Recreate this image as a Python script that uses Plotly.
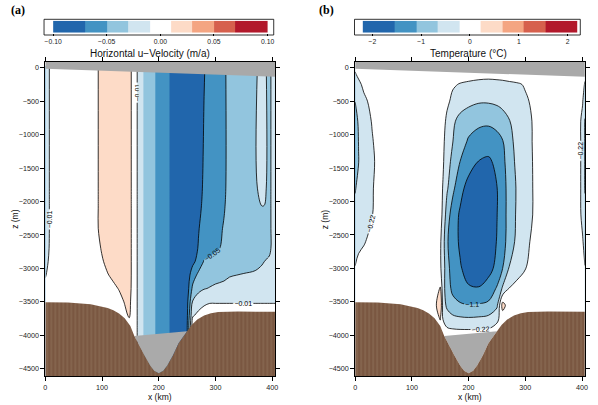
import plotly.graph_objects as go
import numpy as np

# ---------------- data ----------------
# panel (a): horizontal u-velocity (m/a), grid
xa = [0, 10, 50, 90, 100, 110, 120, 130, 140, 148, 156, 160, 164, 170, 176, 190, 200, 215,
      225, 240, 250, 260, 270, 280, 290, 300, 315, 325, 350, 370, 382, 386, 392, 395, 400, 405]
za = [30, -1800, -2100, -2400, -2700, -2900, -3100, -3300, -3500, -3700, -3850, -4000, -4600]
jet = [-0.006, -0.014, -0.024, -0.036, -0.046, -0.056, -0.066, -0.076]
ua = [
    [-0.02, -0.006, 0, 0.005, 0.02, 0.02, 0.02, 0.02, 0.02, 0.018, 0] + jet +
    [-0.08, -0.082, -0.082, -0.08, -0.071, -0.064, -0.058, -0.052, -0.046, -0.04, -0.034, -0.022, -0.024, -0.034, -0.035, -0.026, -0.022],
    [-0.02, -0.006, 0, 0.005, 0.02, 0.02, 0.02, 0.02, 0.02, 0.018, 0] + jet +
    [-0.08, -0.082, -0.082, -0.077, -0.067, -0.063, -0.058, -0.052, -0.046, -0.04, -0.034, -0.022, -0.024, -0.034, -0.035, -0.026, -0.022],
    [-0.02, -0.006, 0, 0.005, 0.02, 0.02, 0.02, 0.02, 0.02, 0.018, 0] + jet +
    [-0.08, -0.082, -0.082, -0.074, -0.066, -0.062, -0.057, -0.051, -0.045, -0.04, -0.034, -0.031, -0.031, -0.035, -0.035, -0.026, -0.022],
    [-0.02, -0.006, 0, 0.005, 0.02, 0.02, 0.02, 0.02, 0.02, 0.018, 0] + jet +
    [-0.08, -0.082, -0.08, -0.071, -0.064, -0.06, -0.055, -0.049, -0.044, -0.04, -0.036, -0.035, -0.035, -0.035, -0.034, -0.027, -0.022],
    [-0.018, -0.006, 0, 0.003, 0.012, 0.018, 0.02, 0.02, 0.02, 0.018, 0] + jet +
    [-0.08, -0.08, -0.078, -0.069, -0.063, -0.058, -0.053, -0.047, -0.043, -0.04, -0.036, -0.035, -0.035, -0.035, -0.034, -0.027, -0.022],
    [-0.015, -0.005, 0, 0.002, 0.008, 0.015, 0.019, 0.02, 0.02, 0.018, 0] + jet +
    [-0.082, -0.08, -0.074, -0.064, -0.048, -0.045, -0.042, -0.04, -0.039, -0.037, -0.034, -0.031, -0.03, -0.028, -0.027, -0.025, -0.022],
    [-0.011, -0.004, 0, 0, 0.005, 0.009, 0.014, 0.018, 0.02, 0.018, 0] + jet +
    [-0.082, -0.08, -0.06, -0.045, -0.04, -0.038, -0.036, -0.034, -0.031, -0.029, -0.028, -0.027, -0.026, -0.025, -0.024, -0.022, -0.02],
    [-0.006, -0.002, 0, 0, 0.002, 0.004, 0.006, 0.011, 0.018, 0.017, 0] + jet +
    [-0.082, -0.08, -0.045, -0.036, -0.031, -0.029, -0.027, -0.025, -0.024, -0.022, -0.021, -0.02, -0.02, -0.02, -0.02, -0.019, -0.018],
    [-0.002, 0, 0, 0, 0, 0.001, 0.002, 0.004, 0.011, 0.014, 0] + jet +
    [-0.08, -0.076, -0.028, -0.018, -0.013, -0.011, -0.011, -0.011, -0.011, -0.011, -0.011, -0.011, -0.011, -0.011, -0.011, -0.011, -0.011],
    [0, 0, 0, 0, 0, 0, 0, 0.002, 0.006, 0.012, 0] + jet +
    [-0.078, -0.074, -0.012, -0.006, -0.003, -0.002, -0.002, -0.002, -0.002, -0.002, -0.002, -0.002, -0.002, -0.002, -0.002, -0.002, -0.002],
    [0, 0, 0, 0, 0, 0, 0, 0, 0.002, 0.004, 0] + jet +
    [-0.078, -0.072, 0, 0, 0, 0, 0, 0, 0, 0, 0, 0, 0, 0, 0, 0, 0],
    [0, 0, 0, 0, 0, 0, 0, 0, 0.002, 0.004, 0] + jet +
    [-0.078, -0.072, 0, 0, 0, 0, 0, 0, 0, 0, 0, 0, 0, 0, 0, 0, 0],
    [0, 0, 0, 0, 0, 0, 0, 0, 0.002, 0.004, 0] + jet +
    [-0.078, -0.072, 0, 0, 0, 0, 0, 0, 0, 0, 0, 0, 0, 0, 0, 0, 0],
]
jet_unlined = (166, 232)   # x-range (km) of panel (a) where no contour lines are drawn

# panel (b): temperature (deg C)
xb = [0, 6, 15, 30, 45, 80, 140, 150, 155, 162, 172, 185, 200, 218, 235, 250, 260,
      272, 285, 300, 315, 330, 360, 385, 396, 401, 405]
zb = [30, -100, -250, -500, -800, -1100, -1400, -1800, -2200, -2600, -3000, -3300,
      -3550, -3750, -3950, -4600]
tb = [
    [-0.15, -0.1, -0.03, 0, 0, 0, 0, -0.01, -0.01, -0.03, -0.05, -0.08, -0.11, -0.13, -0.14, -0.13, -0.12, -0.1, -0.08, -0.05, -0.03, -0.01, 0, 0, 0, -0.05, -0.1],
    [-0.25, -0.15, -0.05, 0, 0, 0, 0, -0.01, -0.01, -0.03, -0.05, -0.08, -0.11, -0.13, -0.14, -0.13, -0.12, -0.1, -0.08, -0.05, -0.03, -0.01, 0, 0, 0, -0.06, -0.15],
    [-0.4, -0.3, -0.15, -0.03, 0, 0, 0, -0.01, -0.02, -0.07, -0.18, -0.24, -0.27, -0.3, -0.31, -0.3, -0.29, -0.27, -0.25, -0.2, -0.1, -0.03, 0, 0, 0, -0.1, -0.25],
    [-0.65, -0.5, -0.3, -0.12, -0.02, 0, 0, -0.02, -0.05, -0.15, -0.3, -0.45, -0.55, -0.62, -0.62, -0.58, -0.52, -0.42, -0.33, -0.25, -0.18, -0.06, 0, 0, -0.1, -0.2, -0.4],
    [-0.85, -0.6, -0.38, -0.2, -0.05, 0, 0, -0.03, -0.1, -0.3, -0.58, -0.8, -0.92, -1.0, -1.02, -0.95, -0.85, -0.68, -0.45, -0.29, -0.2, -0.08, -0.01, -0.02, -0.18, -0.3, -0.7],
    [-0.9, -0.65, -0.42, -0.24, -0.08, 0, 0, -0.04, -0.15, -0.38, -0.65, -0.9, -1.15, -1.3, -1.35, -1.25, -1.12, -0.82, -0.5, -0.3, -0.2, -0.09, -0.02, -0.02, -0.18, -0.3, -0.7],
    [-0.9, -0.67, -0.45, -0.26, -0.12, 0, 0, -0.05, -0.18, -0.45, -0.8, -1.1, -1.35, -1.55, -1.6, -1.45, -1.2, -0.9, -0.55, -0.33, -0.2, -0.1, -0.02, -0.02, -0.18, -0.3, -0.7],
    [-0.7, -0.5, -0.38, -0.24, -0.1, 0, 0, -0.08, -0.25, -0.6, -1.0, -1.4, -1.7, -1.8, -1.7, -1.55, -1.25, -0.95, -0.62, -0.36, -0.2, -0.1, -0.02, -0.02, -0.18, -0.3, -0.7],
    [-0.5, -0.4, -0.32, -0.23, -0.08, 0, 0, -0.1, -0.3, -0.9, -1.3, -1.6, -1.9, -2.0, -1.85, -1.55, -1.25, -0.95, -0.6, -0.35, -0.2, -0.1, -0.02, -0.02, -0.18, -0.28, -0.5],
    [-0.4, -0.3, -0.25, -0.12, -0.03, 0, 0, -0.15, -0.5, -1.05, -1.35, -1.6, -1.85, -1.95, -1.8, -1.52, -1.25, -0.92, -0.55, -0.3, -0.15, -0.07, -0.01, 0, -0.12, -0.2, -0.3],
    [-0.2, -0.12, -0.06, -0.02, 0, 0, 0, -0.15, -0.45, -0.95, -1.3, -1.5, -1.7, -1.75, -1.65, -1.45, -1.1, -0.62, -0.42, -0.23, -0.1, -0.04, 0, 0, -0.05, -0.1, -0.21],
    [-0.1, -0.05, 0, 0, 0, 0, 0, 0.25, -0.5, -0.9, -1.2, -1.35, -1.5, -1.52, -1.4, -1.05, -0.6, -0.2, -0.08, -0.03, 0, 0, 0, 0, 0, -0.03, -0.08],
    [-0.05, 0, 0, 0, 0, 0, 0, 0.7, -0.45, -0.75, -0.95, -1.05, -1.08, -1.06, -1.0, -0.75, 0.4, -0.05, 0, 0, 0, 0, 0, 0, 0, 0, 0],
    [0, 0, 0, 0, 0, 0, 0, 0.25, -0.25, -0.45, -0.55, -0.6, -0.62, -0.6, -0.55, -0.3, -0.05, 0, 0, 0, 0, 0, 0, 0, 0, 0, 0],
    [0, 0, 0, 0, 0, 0, 0, -0.02, -0.05, -0.1, -0.12, -0.13, -0.13, -0.13, -0.12, -0.06, 0, 0, 0, 0, 0, 0, 0, 0, 0, 0, 0],
    [0, 0, 0, 0, 0, 0, 0, -0.02, -0.05, -0.1, -0.12, -0.13, -0.13, -0.13, -0.12, -0.06, 0, 0, 0, 0, 0, 0, 0, 0, 0, 0, 0],
]

# bathymetry (km, m), ice-shelf base, trough cap
topo_x = [0, 40, 80, 100, 110, 120, 130, 140, 150, 157, 165, 175, 185, 192, 200, 208, 215,
          225, 235, 243, 250, 258, 268, 280, 292, 305, 340, 380, 405]
topo_z = [-3505, -3510, -3535, -3565, -3590, -3625, -3675, -3745, -3860, -4010, -4150, -4300,
          -4450, -4530, -4568, -4530, -4450, -4300, -4120, -4020, -3940, -3845, -3765, -3705,
          -3670, -3652, -3645, -3645, -3648]
ice_x = [0, 405]
ice_base = [-15, -135]
trough_cap_x = [157, 250]

# colour classes
u_levels = [-0.1, -0.07, -0.05, -0.03, -0.01, 0.01, 0.03, 0.05, 0.07, 0.1]
t_levels = [-2.2, -1.54, -1.1, -0.66, -0.22, 0.22, 0.66, 1.1, 1.54, 2.2]
class_colors = ['#2166ac', '#4393c3', '#92c5de', '#d1e5f0', '#ffffff',
                '#fddbc7', '#f4a582', '#d6604d', '#b2182b']
u_ticks = [-0.1, -0.05, 0, 0.05, 0.1]
t_ticks = [-2, -1, 0, 1, 2]
x_ticks = [0, 100, 200, 300, 400]
z_ticks = [0, -500, -1000, -1500, -2000, -2500, -3000, -3500, -4000, -4500]

# ---------------- figure ----------------
W, H = 598, 405
FONT = 'Liberation Sans, Arial, sans-serif'
cscale = [[i / 8, c] for i, c in enumerate(class_colors)]
SMOOTH = 1.0

fig = go.Figure()


def add_panel(x, z, field, levels, lab, unlab, xa_name, ya_name, fmt, mask=None):
    step = levels[2] - levels[1]
    fig.add_trace(go.Contour(
        x=x, y=z, z=field, xaxis=xa_name, yaxis=ya_name,
        colorscale=cscale, showscale=False, hoverinfo='skip',
        contours=dict(start=levels[1], end=levels[-2], size=step,
                      coloring='fill', showlines=False),
        line=dict(width=0, smoothing=SMOOTH)))
    zl = field
    if mask is not None:
        zl = [[(np.nan if mask[0] < xx < mask[1] else v) for xx, v in zip(x, row)]
              for row in field]
    fig.add_trace(go.Contour(
        x=x, y=z, z=zl, xaxis=xa_name, yaxis=ya_name, showscale=False,
        hoverinfo='skip', connectgaps=False,
        contours=dict(start=unlab[0], end=unlab[1], size=unlab[2],
                      coloring='none', showlabels=False),
        line=dict(width=0.8, color='black', smoothing=SMOOTH)))
    fig.add_trace(go.Contour(
        x=x, y=z, z=zl, xaxis=xa_name, yaxis=ya_name, showscale=False,
        hoverinfo='skip', connectgaps=False,
        contours=dict(start=lab[0], end=lab[1], size=lab[2], coloring='none',
                      showlabels=True, labelformat=fmt,
                      labelfont=dict(family=FONT, size=7, color='black')),
        line=dict(width=0.8, color='black', smoothing=SMOOTH)))
    # ice shelf
    fig.add_trace(go.Scatter(
        x=[ice_x[0], ice_x[1], ice_x[1], ice_x[0]],
        y=[300, 300, ice_base[1], ice_base[0]], fill='toself', mode='lines',
        line=dict(width=0), fillcolor='#a9a9a9', xaxis=xa_name, yaxis=ya_name,
        hoverinfo='skip', showlegend=False))
    # trough cap (grey)
    gx = [xx for xx in topo_x if trough_cap_x[0] <= xx <= trough_cap_x[1]]
    gz = [zz for xx, zz in zip(topo_x, topo_z) if trough_cap_x[0] <= xx <= trough_cap_x[1]]
    fig.add_trace(go.Scatter(
        x=gx, y=gz, fill='toself', mode='lines', line=dict(width=0),
        fillcolor='#aaaaaa', xaxis=xa_name, yaxis=ya_name, hoverinfo='skip',
        showlegend=False))
    # bathymetry
    fig.add_trace(go.Scatter(
        x=topo_x + [topo_x[-1], topo_x[0]], y=topo_z + [-4800, -4800],
        fill='toself', mode='lines', line=dict(width=0),
        fillcolor='#7a5741',
        fillpattern=dict(shape='|', bgcolor='#7a5741', fgcolor='#977a64',
                         size=4, solidity=0.35),
        xaxis=xa_name, yaxis=ya_name, hoverinfo='skip', showlegend=False))


add_panel(xa, za, ua, u_levels, (-0.05, -0.01, 0.04), (-0.07, 0.05, 0.04),
          'x', 'y', '.2f', mask=jet_unlined)
add_panel(xb, zb, tb, t_levels, (-1.1, -0.22, 0.88), (-1.54, 1.1, 0.88),
          'x2', 'y2', '.2~f')

# colour bars drawn as heatmaps on their own axes
for lev, xn, yn in [(u_levels, 'x3', 'y3'), (t_levels, 'x4', 'y4')]:
    fig.add_trace(go.Heatmap(
        x=lev, y=[0, 1], z=[list(range(9))], zmin=0, zmax=8, colorscale=cscale,
        showscale=False, xaxis=xn, yaxis=yn, hoverinfo='skip'))

px = lambda v: v / W
py = lambda v: 1 - v / H

tickfont = dict(family=FONT, size=7.2, color='#222')
main_ax = dict(showline=True, linecolor='black', linewidth=0.8, mirror='ticks',
               ticks='outside', ticklen=4, tickwidth=0.8, tickcolor='black',
               showgrid=False, zeroline=False, tickfont=tickfont)
xr = [0, 405]
yr = [-4608, 90]

fig.update_layout(
    width=W, height=H, margin=dict(l=0, r=0, t=0, b=0),
    paper_bgcolor='white', plot_bgcolor='white', showlegend=False,
    xaxis=dict(domain=[px(37.3), px(273.3)], anchor='y', range=xr, tickvals=x_ticks, **main_ax),
    yaxis=dict(domain=[py(376), py(61.7)], anchor='x', range=yr, tickvals=z_ticks, **main_ax),
    xaxis2=dict(domain=[px(355.7), px(591.7)], anchor='y2', range=xr, tickvals=x_ticks, **main_ax),
    yaxis2=dict(domain=[py(376), py(61.7)], anchor='x2', range=yr, tickvals=z_ticks, **main_ax),
    xaxis3=dict(domain=[px(45.3), px(265.7)], anchor='y3', range=[u_levels[0], u_levels[-1]],
                tickvals=u_ticks, tickformat='.2f', ticks='outside', ticklen=2,
                tickcolor='black', tickwidth=0.6, showgrid=False, zeroline=False,
                showline=False, tickfont=dict(family=FONT, size=6.8, color='#222')),
    yaxis3=dict(domain=[py(32.7), py(20.7)], anchor='x3', range=[0, 1], visible=False),
    xaxis4=dict(domain=[px(363.3), px(584)], anchor='y4', range=[t_levels[0], t_levels[-1]],
                tickvals=t_ticks, ticks='outside', ticklen=2,
                tickcolor='black', tickwidth=0.6, showgrid=False, zeroline=False,
                showline=False, tickfont=dict(family=FONT, size=6.8, color='#222')),
    yaxis4=dict(domain=[py(32.7), py(20.7)], anchor='x4', range=[0, 1], visible=False),
)

# colour-bar frames
for x0, x1 in [(36, 272), (355, 587)]:
    fig.add_shape(type='rect', xref='paper', yref='paper', x0=px(x0), x1=px(x1),
                  y0=py(35), y1=py(19.3), line=dict(color='black', width=0.8),
                  fillcolor='rgba(0,0,0,0)', layer='above')

ann = []
ann.append(dict(x=px(9), y=py(10), text='<b>(a)</b>', font=dict(family='Liberation Serif, serif', size=12, color='black')))
ann.append(dict(x=px(326.7), y=py(10), text='<b>(b)</b>', font=dict(family='Liberation Serif, serif', size=12, color='black')))
ann.append(dict(x=px(145), y=py(54), text='Horizontal u\u2212Velocity (m/a)', font=dict(family=FONT, size=10, color='#111')))
ann.append(dict(x=px(472), y=py(54), text='Temperature (\u00b0C)', font=dict(family=FONT, size=10, color='#111')))
ann.append(dict(x=px(155.3), y=py(397), text='x (km)', font=dict(family=FONT, size=8.5, color='#111')))
ann.append(dict(x=px(473.7), y=py(397), text='x (km)', font=dict(family=FONT, size=8.5, color='#111')))
ann.append(dict(x=px(6), y=py(219), text='z (m)', textangle=-90, font=dict(family=FONT, size=8.5, color='#111')))
ann.append(dict(x=px(325), y=py(219), text='z (m)', textangle=-90, font=dict(family=FONT, size=8.5, color='#111')))
for a in ann:
    a.update(xref='paper', yref='paper', showarrow=False, xanchor='center', yanchor='middle')
fig.update_layout(annotations=ann)

fig.write_html('out.html')
